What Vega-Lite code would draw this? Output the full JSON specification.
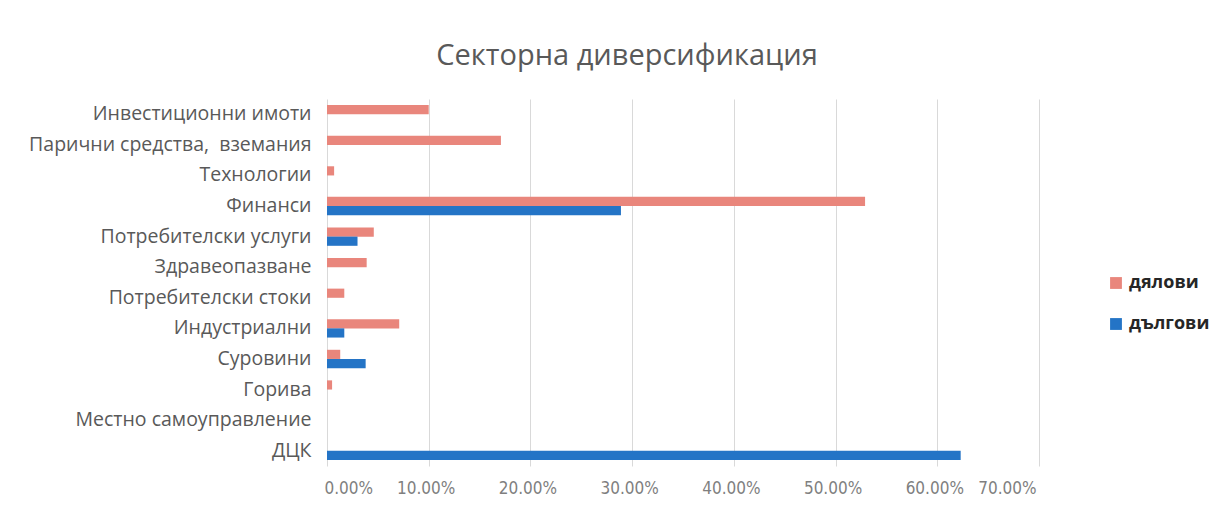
{
  "$schema": "https://vega.github.io/schema/vega-lite/v6.json",
  "width": 712,
  "height": 367,
  "autosize": "none",
  "padding": {"left": 327, "top": 99, "right": 191, "bottom": 49},
  "background": "white",
  "title": {
    "text": "Секторна диверсификация",
    "fontSize": 29,
    "font": "Open Sans",
    "fontWeight": "normal",
    "color": "#595959",
    "anchor": "middle",
    "dx": -56,
    "offset": 28
  },
  "data": {
    "values": [
      {"sector": "Инвестиционни имоти", "type": "дялови", "value": 0.100},
      {"sector": "Парични средства,  вземания", "type": "дялови", "value": 0.171},
      {"sector": "Технологии", "type": "дялови", "value": 0.007},
      {"sector": "Финанси", "type": "дялови", "value": 0.529},
      {"sector": "Финанси", "type": "дългови", "value": 0.289},
      {"sector": "Потребителски услуги", "type": "дялови", "value": 0.046},
      {"sector": "Потребителски услуги", "type": "дългови", "value": 0.030},
      {"sector": "Здравеопазване", "type": "дялови", "value": 0.039},
      {"sector": "Потребителски стоки", "type": "дялови", "value": 0.017},
      {"sector": "Индустриални", "type": "дялови", "value": 0.071},
      {"sector": "Индустриални", "type": "дългови", "value": 0.017},
      {"sector": "Суровини", "type": "дялови", "value": 0.013},
      {"sector": "Суровини", "type": "дългови", "value": 0.038},
      {"sector": "Горива", "type": "дялови", "value": 0.005},
      {"sector": "Местно самоуправление", "type": "дялови", "value": 0},
      {"sector": "Местно самоуправление", "type": "дългови", "value": 0},
      {"sector": "ДЦК", "type": "дългови", "value": 0.623}
    ]
  },
  "mark": {"type": "bar"},
  "encoding": {
    "y": {
      "field": "sector",
      "type": "nominal",
      "sort": ["Инвестиционни имоти", "Парични средства,  вземания", "Технологии", "Финанси", "Потребителски услуги", "Здравеопазване", "Потребителски стоки", "Индустриални", "Суровини", "Горива", "Местно самоуправление", "ДЦК"],
      "scale": {"paddingInner": 0.4, "paddingOuter": 0.2},
      "axis": {
        "title": null,
        "domain": false,
        "ticks": false,
        "grid": false,
        "labelFont": "Open Sans",
        "labelFontSize": 19.5,
        "labelColor": "#595959",
        "labelPadding": 16,
        "labelLimit": 400,
        "labelExpr": "replace(datum.label, ',  ', ',\u00a0 ')"
      }
    },
    "yOffset": {
      "field": "type",
      "type": "nominal",
      "sort": ["дялови", "дългови"]
    },
    "x": {
      "field": "value",
      "type": "quantitative",
      "scale": {"domain": [0, 0.7], "nice": false},
      "axis": {
        "title": null,
        "format": ".2%",
        "values": [0, 0.1, 0.2, 0.3, 0.4, 0.5, 0.6, 0.7],
        "domain": false,
        "ticks": false,
        "grid": true,
        "gridColor": "#d9d9d9",
        "labelFont": "DejaVu Sans Condensed, Open Sans",
        "labelFontSize": 17,
        "labelColor": "#7f7f7f",
        "labelPadding": 14,
        "labelOffset": -3,
        "labelOverlap": false
      }
    },
    "color": {
      "field": "type",
      "type": "nominal",
      "sort": ["дялови", "дългови"],
      "scale": {"domain": ["дялови", "дългови"], "range": ["#E9867C", "#2474C6"]},
      "legend": {
        "title": null,
        "orient": "none",
        "legendX": 780,
        "legendY": 175,
        "symbolType": "square",
        "symbolSize": 140,
        "labelFont": "Open Sans",
        "labelFontSize": 18,
        "labelFontWeight": "bold",
        "labelColor": "#262626",
        "rowPadding": 23,
        "labelOffset": 4
      }
    }
  },
  "config": {"view": {"stroke": null}}
}
